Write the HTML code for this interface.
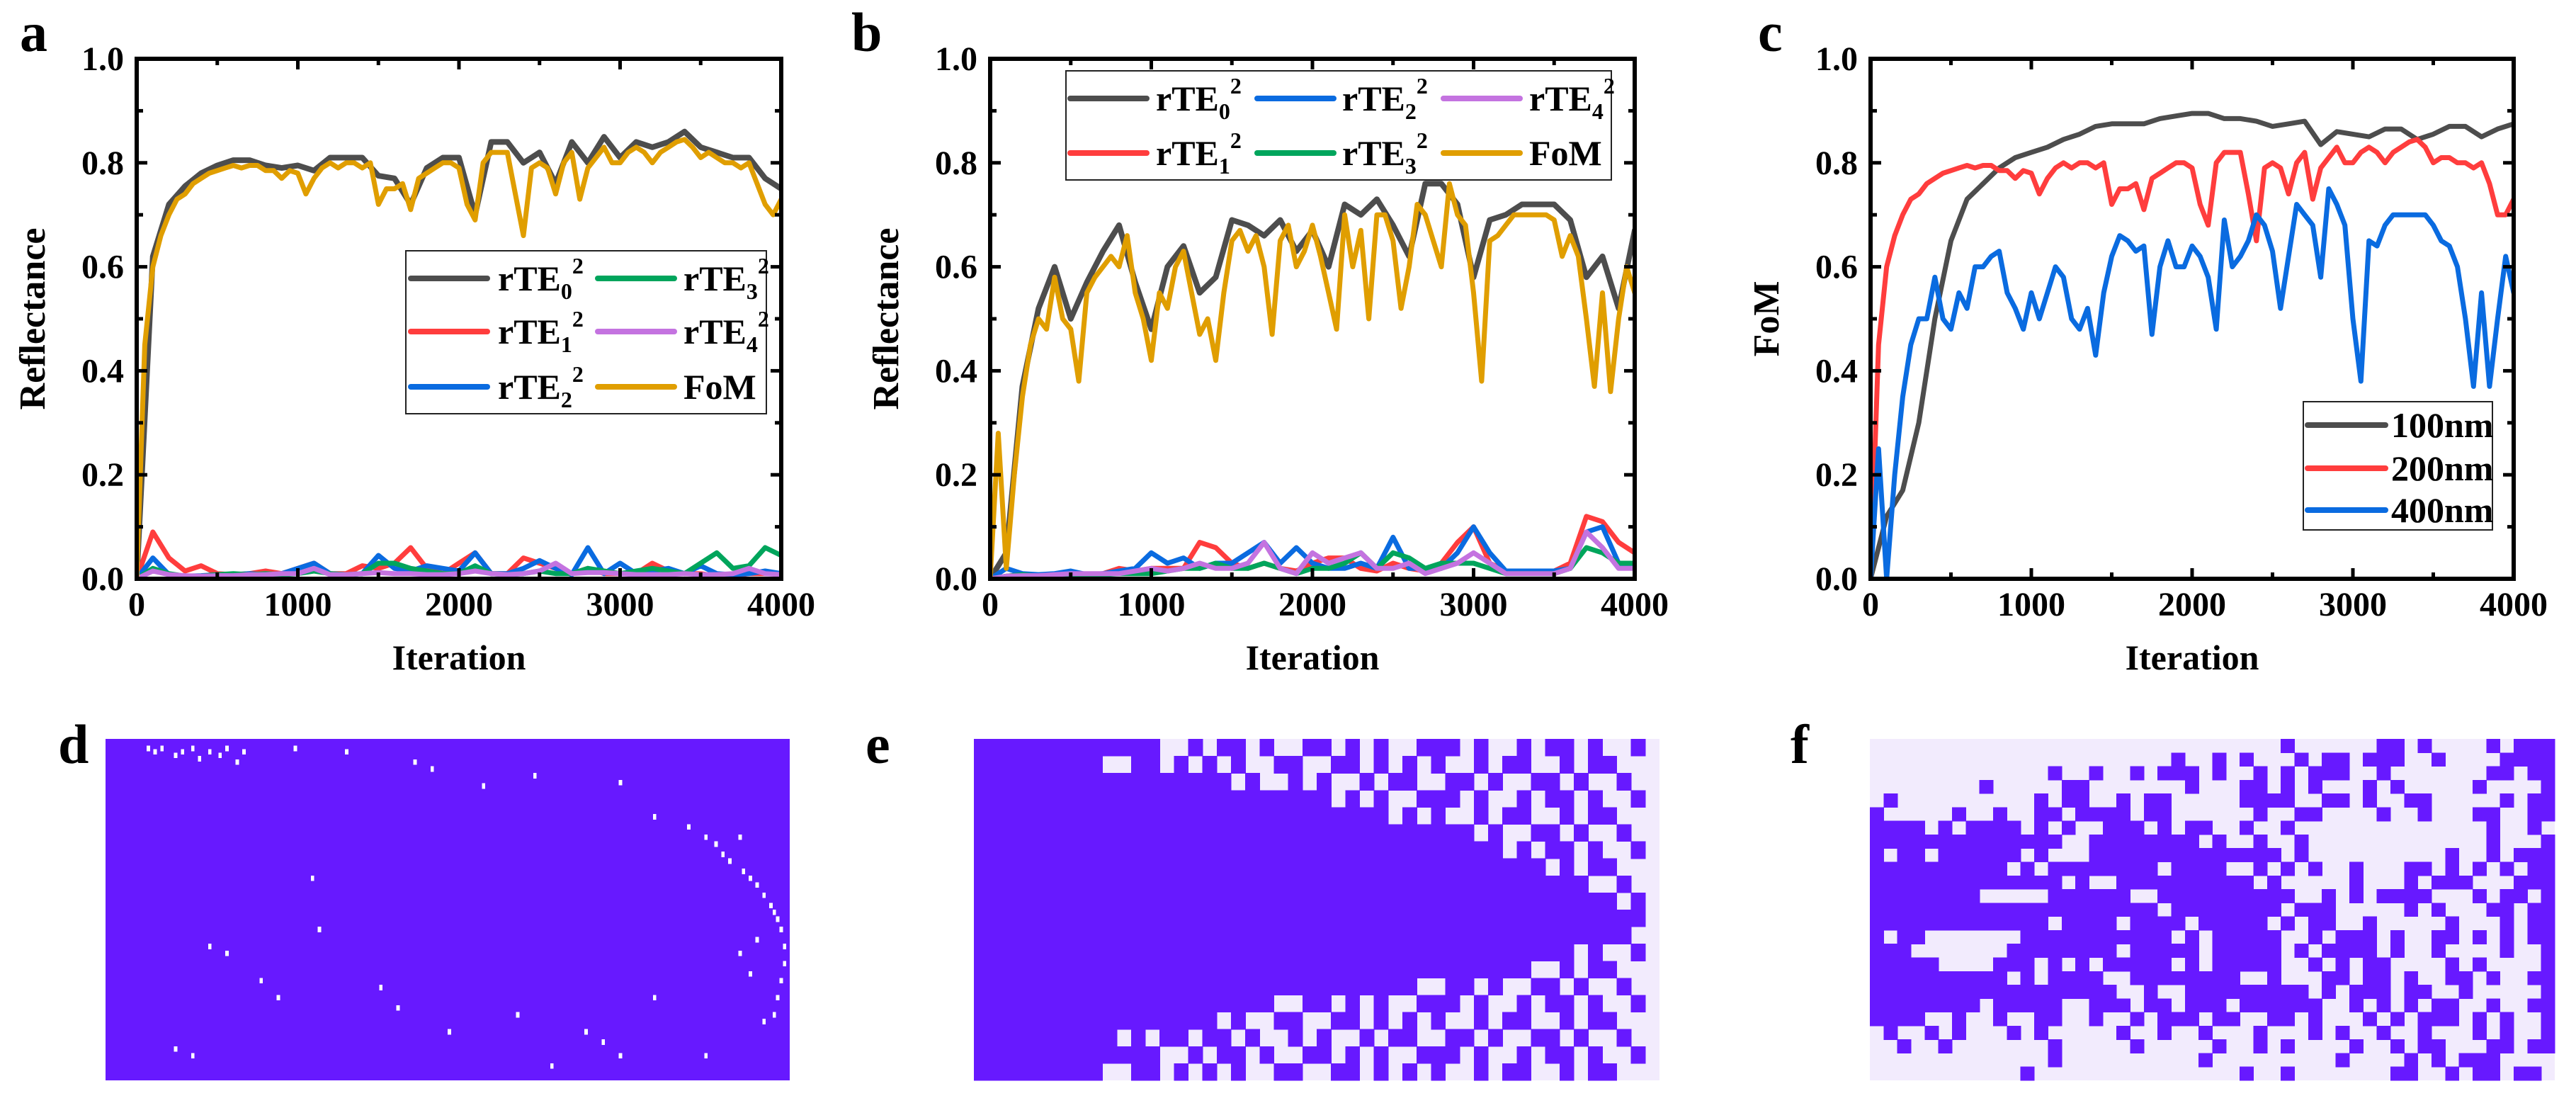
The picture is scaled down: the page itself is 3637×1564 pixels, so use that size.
<!DOCTYPE html>
<html><head><meta charset="utf-8"><style>
html,body{margin:0;padding:0;background:#fff;}
svg{display:block;}
text{font-family:"Liberation Serif",serif;font-weight:bold;fill:#000;}
</style></head><body>
<svg id="fig" width="3637" height="1564" viewBox="0 0 3637 1564" xmlns="http://www.w3.org/2000/svg"></svg>
<script>
// ---------- data ----------
const xTicks=[0,1000,2000,3000,4000];
const xTickLabels=["0","1000","2000","3000","4000"];
const yTicks=[0,0.2,0.4,0.6,0.8,1.0];
const yTickLabels=["0.0","0.2","0.4","0.6","0.8","1.0"];
const step50=50, step100=100;
// panel a
const aFoM=[0,0.45,0.6,0.66,0.7,0.73,0.74,0.76,0.77,0.78,0.785,0.79,0.795,0.79,0.795,0.795,0.785,0.785,0.77,0.785,0.78,0.74,0.77,0.79,0.8,0.79,0.8,0.8,0.79,0.8,0.72,0.75,0.75,0.76,0.71,0.77,0.78,0.79,0.8,0.8,0.79,0.72,0.69,0.8,0.82,0.82,0.82,0.74,0.66,0.79,0.8,0.79,0.74,0.8,0.82,0.73,0.79,0.81,0.83,0.8,0.8,0.82,0.83,0.82,0.8,0.82,0.83,0.84,0.845,0.83,0.81,0.82,0.81,0.8,0.8,0.79,0.8,0.76,0.72,0.7,0.73];
const aR0=[0,0.62,0.72,0.755,0.78,0.795,0.805,0.805,0.795,0.79,0.795,0.785,0.81,0.81,0.81,0.775,0.77,0.72,0.79,0.81,0.81,0.7,0.84,0.84,0.8,0.82,0.76,0.84,0.8,0.85,0.81,0.84,0.83,0.84,0.86,0.83,0.82,0.81,0.81,0.77,0.75];
const aR1=[0,0.09,0.04,0.015,0.025,0.01,0.008,0.01,0.015,0.01,0.02,0.03,0.01,0.01,0.025,0.02,0.03,0.06,0.02,0.01,0.03,0.05,0.01,0.01,0.04,0.03,0.02,0.01,0.02,0.01,0.01,0.01,0.03,0.015,0.01,0.01,0.005,0.005,0.01,0.01,0.01];
const aR2=[0,0.04,0.008,0.005,0.006,0.008,0.008,0.01,0.008,0.01,0.02,0.03,0.01,0.008,0.01,0.045,0.02,0.015,0.025,0.02,0.015,0.05,0.01,0.01,0.02,0.035,0.02,0.008,0.06,0.01,0.03,0.01,0.015,0.02,0.01,0.025,0.01,0.008,0.01,0.015,0.01];
const aR3=[0,0.02,0.01,0.005,0.005,0.008,0.01,0.008,0.01,0.008,0.01,0.015,0.01,0.008,0.01,0.03,0.03,0.02,0.015,0.01,0.01,0.025,0.01,0.008,0.01,0.015,0.01,0.01,0.02,0.015,0.01,0.015,0.02,0.015,0.01,0.03,0.05,0.02,0.025,0.06,0.045];
const aR4=[0,0.015,0.008,0.006,0.005,0.006,0.006,0.008,0.008,0.01,0.01,0.02,0.008,0.008,0.01,0.012,0.01,0.01,0.008,0.008,0.01,0.015,0.01,0.008,0.01,0.015,0.03,0.01,0.012,0.012,0.01,0.008,0.008,0.008,0.01,0.008,0.008,0.01,0.02,0.01,0.008];
// panel b
const bFoM=[0,0.28,0.02,0.2,0.35,0.45,0.5,0.48,0.58,0.5,0.48,0.38,0.55,0.58,0.6,0.62,0.6,0.66,0.55,0.5,0.42,0.55,0.52,0.6,0.63,0.55,0.47,0.5,0.42,0.55,0.65,0.67,0.63,0.66,0.6,0.47,0.65,0.68,0.6,0.63,0.68,0.62,0.55,0.48,0.7,0.6,0.67,0.5,0.7,0.7,0.65,0.52,0.6,0.72,0.7,0.65,0.6,0.76,0.7,0.68,0.55,0.38,0.65,0.66,0.68,0.7,0.7,0.7,0.7,0.7,0.69,0.62,0.66,0.62,0.5,0.37,0.55,0.36,0.5,0.6,0.55];
const bR0=[0,0.05,0.37,0.52,0.6,0.5,0.57,0.63,0.68,0.57,0.48,0.6,0.64,0.55,0.58,0.69,0.68,0.66,0.69,0.63,0.67,0.6,0.72,0.7,0.73,0.68,0.62,0.76,0.76,0.72,0.58,0.69,0.7,0.72,0.72,0.72,0.69,0.58,0.62,0.52,0.67];
const bR1=[0,0.005,0.008,0.005,0.006,0.008,0.006,0.01,0.02,0.015,0.02,0.02,0.02,0.07,0.06,0.03,0.02,0.03,0.02,0.015,0.03,0.04,0.04,0.02,0.015,0.03,0.02,0.015,0.03,0.07,0.1,0.03,0.015,0.012,0.012,0.015,0.03,0.12,0.11,0.07,0.05];
const bR2=[0,0.02,0.01,0.008,0.01,0.015,0.008,0.01,0.015,0.02,0.05,0.03,0.04,0.02,0.03,0.03,0.05,0.07,0.03,0.06,0.03,0.02,0.02,0.03,0.02,0.08,0.02,0.02,0.02,0.05,0.1,0.05,0.015,0.015,0.015,0.015,0.02,0.09,0.1,0.03,0.02];
const bR3=[0,0.005,0.008,0.005,0.005,0.006,0.008,0.008,0.01,0.01,0.01,0.015,0.02,0.02,0.03,0.02,0.02,0.03,0.02,0.01,0.02,0.02,0.03,0.05,0.02,0.05,0.04,0.02,0.03,0.03,0.03,0.02,0.01,0.01,0.01,0.01,0.02,0.06,0.05,0.03,0.03];
const bR4=[0,0.005,0.006,0.006,0.008,0.01,0.01,0.01,0.01,0.015,0.02,0.015,0.02,0.03,0.02,0.02,0.03,0.07,0.02,0.01,0.05,0.03,0.04,0.05,0.02,0.02,0.03,0.01,0.02,0.03,0.05,0.03,0.01,0.01,0.01,0.01,0.02,0.09,0.06,0.02,0.02];
// panel c
const c100=[0,0.12,0.17,0.3,0.5,0.65,0.73,0.76,0.79,0.81,0.82,0.83,0.845,0.855,0.87,0.875,0.875,0.875,0.885,0.89,0.895,0.895,0.885,0.885,0.88,0.87,0.875,0.88,0.835,0.86,0.855,0.85,0.865,0.865,0.845,0.855,0.87,0.87,0.85,0.865,0.875];
const c200=[0,0.45,0.6,0.66,0.7,0.73,0.74,0.76,0.77,0.78,0.785,0.79,0.795,0.79,0.795,0.795,0.785,0.785,0.77,0.785,0.78,0.74,0.77,0.79,0.8,0.79,0.8,0.8,0.79,0.8,0.72,0.75,0.75,0.76,0.71,0.77,0.78,0.79,0.8,0.8,0.79,0.72,0.68,0.8,0.82,0.82,0.82,0.74,0.65,0.79,0.8,0.79,0.74,0.8,0.82,0.73,0.79,0.81,0.83,0.8,0.8,0.82,0.83,0.82,0.8,0.82,0.83,0.84,0.845,0.83,0.8,0.81,0.81,0.8,0.8,0.79,0.8,0.76,0.7,0.7,0.73];
const c400=[0,0.25,0,0.2,0.35,0.45,0.5,0.5,0.58,0.5,0.48,0.55,0.52,0.6,0.6,0.62,0.63,0.55,0.52,0.48,0.55,0.5,0.55,0.6,0.58,0.5,0.48,0.52,0.43,0.55,0.62,0.66,0.65,0.63,0.64,0.47,0.6,0.65,0.6,0.6,0.64,0.62,0.58,0.48,0.69,0.6,0.62,0.65,0.7,0.68,0.63,0.52,0.62,0.72,0.7,0.68,0.58,0.75,0.72,0.68,0.5,0.38,0.65,0.64,0.68,0.7,0.7,0.7,0.7,0.7,0.68,0.65,0.64,0.6,0.5,0.37,0.55,0.37,0.5,0.62,0.55];
// heatmap e: per-row solid-material prefix length (of 48 cols) and speckle pattern index
const eSolid=[12,8,18,23,29,33,37,40,43,45,47,45,42,38,30,20,16,10,12,8];
const eNoiseIdx=[0,1,2,0,1,2,0,1,2,0,1,2,0,1,2,0,1,2,0,1];
const eNoise=[
"x.xx..x.x.xxx..x.xx.x..xx.x.x..xxx.x..x.xx.x..x.",
".xx.x..xx..xx.x.x.x..xx..xx.x.x.x..x.xx..x.xx..x",
"xx..x.x..x.x.xx.xx.x..x.x..x.xx..xx.x..xx.x..x.."];
// heatmap f (25 rows x 50 cols): x = material, . = void
const fRows=[
"..............................x......xx.x....x.xxx",
"......................x..x.x...x.xx.xxx..x....xxxx",
".............x..x..x.xxx.x..x.x.xxx..x.......xx.xx",
"........x.....xx.......x...xx.x.x...x.x.....x....x",
".x..........x.xx..x.xx.....xxxx..xx.x..xx.....x.xx",
"x.....x..x..xx.xxxx.xx......x..xx....x..x...xx..xx",
"xxxx.x.xxxx.x.x..xxx.x.xx..x..x..............x..x.",
"xxxxxxxxxxxxxx..xxxxxxxx.x..x..x.............x...x",
"x.xx.xxxxxx.x...xxxxxxxxxxxxxx.x..........x..x.xxx",
"xxxxxxxxxx.x.xxxxxxxx.xxxx..x.x.x..x...xx.x.x.x.xx",
"xxxxxxxxxxxxxx.x..xxxxxxxxxx.x.....x...x.xxx...xxx",
"xxxxxxxx.....xxxxxx..xxxxxxxxxx..x.x.xxxx...x.xx.x",
"xxxxxxxxxxxxxxxxxxxxx.xxxxxxxx.xxx.....x.x...xx.xx",
"xxxxxxxxxxxxx.xxxx.xxxx.xxxxx.x.xx..x.....x...x.xx",
"x.xx.......xxxxxxxxxxx.x.xxxxx..x.xxx.x..xx.x.x.xx",
"xxx.......xxxxxxxx.xxxxx.xxxxx.x.xxxx.x..x....x..x",
"xxxxx....xxx.x.x.xxxxx.x.xxxxx..x.x.xx....x.x....x",
"xxxxxxxxxx.x.xxxx..xxxxxxxx..x...xx.xx.x..xx.x..xx",
"xxxxxxxxxxxxxxxxxx..x..xxxxxxxxx.x.xxx.xx..x.....x",
"xxxxxxxx.xxxxx..xxx.xx.xxx.xxxxxx..x.x.x.xx..x..xx",
"xxxx..x..x..xx..x..x.xxx.xx..xx.x...x.x.xxx.x.x..x",
".x..x.x...x.x.....x..x..x...x...x.x..x..x...x.x..x",
"..x..x.......x.....x.....x..x.x....x..x.xx...xx.xx",
".............x..........x.........x....x.x.xxx....",
"...........x...............x..x.......xx..x.xx.xx."];
// heatmap d voids on 200x100 grid
const dVoidCols=[12,14,16,20,22,25,27,30,33,35,38,40,55,70,90,95,110,125,150,160,170,175,178,180,182,185,186,188,190,192,194,195,196,197,198,198,197,196,195,190,185,60,62,30,35,45,50,80,85,100,120,140,145,160,175,188,192,20,25,130,150];
const dVoidRows=[2,3,2,4,3,2,5,3,4,2,6,3,2,3,6,8,13,10,12,22,25,28,30,33,35,28,38,40,42,45,48,50,52,55,60,65,70,75,80,58,62,40,55,60,62,70,75,72,78,85,80,85,88,75,92,68,82,90,92,95,92];

// ---------- helpers ----------
const NS="http://www.w3.org/2000/svg";
const svg=document.getElementById('fig');
function mk(tag,attrs,parent){const e=document.createElementNS(NS,tag);for(const k in attrs)e.setAttribute(k,attrs[k]);(parent||svg).appendChild(e);return e;}
function txt(s,x,y,size,anchor,parent){const t=mk('text',{x:x,y:y,'font-size':size,'text-anchor':anchor||'start'},parent);t.textContent=s;return t;}

const C={gray:'#4d4d4d',red:'#ff3d3d',blue:'#0a6be0',green:'#00a55c',violet:'#c473e0',gold:'#e09e00'};

function makeAxes(P,ylabel,name){
  const g=mk('g',{});
  
  
  P.sx=v=>P.x0+(v/4000)*(P.x1-P.x0);
  P.sy=v=>P.y1-(v/1.0)*(P.y1-P.y0);
  P.g=g;
  return g;
}
function drawFrame(P,ylabel,name){
  const g=P.g;
  for(let v=0;v<=4000;v+=500){
    const x=P.sx(v), L=(v%1000===0)?15:9;
    mk('line',{x1:x,y1:P.y1,x2:x,y2:P.y1-L,stroke:'#000','stroke-width':5},g);
    mk('line',{x1:x,y1:P.y0,x2:x,y2:P.y0+L,stroke:'#000','stroke-width':5},g);
  }
  for(let i=0;i<=10;i++){
    const y=P.y1-i/10*(P.y1-P.y0), L=(i%2===0)?15:9;
    mk('line',{x1:P.x0,y1:y,x2:P.x0+L,y2:y,stroke:'#000','stroke-width':5},g);
    mk('line',{x1:P.x1,y1:y,x2:P.x1-L,y2:y,stroke:'#000','stroke-width':5},g);
  }
  mk('rect',{x:P.x0,y:P.y0,width:P.x1-P.x0,height:P.y1-P.y0,fill:'none',stroke:'#000','stroke-width':6},g);
  xTicks.forEach((v,i)=>{const t=txt(xTickLabels[i],P.sx(v),P.y1+52,48,'middle',g);
    
    });
  yTicks.forEach((v,i)=>{const t=txt(yTickLabels[i],P.x0-18,P.sy(v)+16,48,'end',g);
    
    });
  const xt=txt('Iteration',(P.x0+P.x1)/2,P.y1+128,50,'middle',g);
  
  
  const cx=P.x0-130, cy=(P.y0+P.y1)/2;
  const yt=txt(ylabel,cx,cy,52,'middle',g);
  yt.setAttribute('transform','rotate(-90 '+cx+' '+cy+')');
  
  
}
function series(P,vals,step,color,name,w){
  let d='';
  vals.forEach((v,i)=>{d+=(i?'L':'M')+P.sx(i*step).toFixed(1)+','+P.sy(v).toFixed(1);});
  const p=mk('path',{d:d,fill:'none',stroke:color,'stroke-width':w||7,'stroke-linejoin':'round','stroke-linecap':'round','clip-path':'url(#'+P.clip+')'},P.g);
  
  
}
function clip(P,id){
  const defs=mk('defs',{});const cp=mk('clipPath',{id:id},defs);
  mk('rect',{x:P.x0,y:P.y0-4,width:P.x1-P.x0,height:P.y1-P.y0+4},cp);P.clip=id;
}
function rteLabel(parent,x,y,sub){
  const t=mk('text',{x:x,y:y,'font-size':50},parent);
  t.appendChild(document.createTextNode('rTE'));
  const s1=mk('tspan',{dy:12,'font-size':32},t);s1.textContent=sub;
  const s2=mk('tspan',{dy:-36,'font-size':32},t);s2.textContent='2';
  return t;
}
function legend(box,entries,name){
  const g=mk('g',{});
  
  
  mk('rect',{x:box.x,y:box.y,width:box.w,height:box.h,fill:'#fff',stroke:'#222','stroke-width':2},g);
  entries.forEach(e=>{
    const it=mk('g',{},g);
    
    
    mk('line',{x1:e.lx,y1:e.y,x2:e.lx+e.lw,y2:e.y,stroke:e.c,'stroke-width':8,'stroke-linecap':'round'},it);
    if(e.sub!==undefined) rteLabel(it,e.tx,e.y+17,e.sub);
    else txt(e.label,e.tx,e.y+17,50,'start',it);
  });
}

// ---------- panel labels ----------
[['a',28,72],['b',1202,72],['c',2482,72],['d',82,1077],['e',1222,1077],['f',2528,1077]].forEach(l=>{
  const t=txt(l[0],l[1],l[2],78,'start');
  
  
});

// ---------- panel a ----------
const PA={x0:193,x1:1103,y0:83,y1:817};
makeAxes(PA,'Reflectance','panel-a');clip(PA,'ca');
series(PA,aR0,step100,C.gray,'series-a-rte0',8);
series(PA,aR1,step100,C.red,'series-a-rte1');
series(PA,aR2,step100,C.blue,'series-a-rte2');
series(PA,aR3,step100,C.green,'series-a-rte3');
series(PA,aR4,step100,C.violet,'series-a-rte4');
series(PA,aFoM,step50,C.gold,'series-a-fom');
drawFrame(PA,'Reflectance','panel-a');
legend({x:573,y:354,w:509,h:230},[
 {lx:580,lw:108,tx:703,y:393,c:C.gray,sub:'0'},
 {lx:580,lw:108,tx:703,y:468,c:C.red,sub:'1'},
 {lx:580,lw:108,tx:703,y:546,c:C.blue,sub:'2'},
 {lx:844,lw:108,tx:965,y:393,c:C.green,sub:'3'},
 {lx:844,lw:108,tx:965,y:468,c:C.violet,sub:'4'},
 {lx:844,lw:108,tx:965,y:546,c:C.gold,label:'FoM'}],'legend-a');

// ---------- panel b ----------
const PB={x0:1398,x1:2308,y0:83,y1:817};
makeAxes(PB,'Reflectance','panel-b');clip(PB,'cb');
series(PB,bR0,step100,C.gray,'series-b-rte0',8);
series(PB,bR1,step100,C.red,'series-b-rte1');
series(PB,bR2,step100,C.blue,'series-b-rte2');
series(PB,bR3,step100,C.green,'series-b-rte3');
series(PB,bR4,step100,C.violet,'series-b-rte4');
series(PB,bFoM,step50,C.gold,'series-b-fom');
drawFrame(PB,'Reflectance','panel-b');
legend({x:1505,y:100,w:770,h:154},[
 {lx:1511,lw:108,tx:1632,y:139,c:C.gray,sub:'0'},
 {lx:1511,lw:108,tx:1632,y:216,c:C.red,sub:'1'},
 {lx:1775,lw:108,tx:1895,y:139,c:C.blue,sub:'2'},
 {lx:1775,lw:108,tx:1895,y:216,c:C.green,sub:'3'},
 {lx:2038,lw:108,tx:2159,y:139,c:C.violet,sub:'4'},
 {lx:2038,lw:108,tx:2159,y:216,c:C.gold,label:'FoM'}],'legend-b');

// ---------- panel c ----------
const PC={x0:2641,x1:3549,y0:83,y1:817};
makeAxes(PC,'FoM','panel-c');clip(PC,'cc');
series(PC,c100,step100,C.gray,'series-c-100nm');
series(PC,c200,step50,C.red,'series-c-200nm');
series(PC,c400,step50,C.blue,'series-c-400nm');
drawFrame(PC,'FoM','panel-c');
legend({x:3252,y:567,w:267,h:181},[
 {lx:3258,lw:110,tx:3376,y:600,c:C.gray,label:'100nm'},
 {lx:3258,lw:110,tx:3376,y:661,c:C.red,label:'200nm'},
 {lx:3258,lw:110,tx:3376,y:720,c:C.blue,label:'400nm'}],'legend-c');

// ---------- heatmaps ----------
const PUR='#6719ff', LAV='#f2ebfd';
function heat(rows,X,Y,W,H,name){
  const g=mk('g',{'shape-rendering':'crispEdges'});
  
  
  mk('rect',{x:X,y:Y,width:W,height:H,fill:LAV},g);
  const nr=rows.length,nc=rows[0].length,cw=W/nc,ch=H/nr;
  rows.forEach((r,i)=>{for(let j=0;j<nc;j++){if(r[j]==='x'){
    mk('rect',{x:(X+j*cw).toFixed(2),y:(Y+i*ch).toFixed(2),width:(cw+0.6).toFixed(2),height:(ch+0.6).toFixed(2),fill:PUR},g);}}});
}
// d
(function(){
  const X=149,Y=1043,W=966,H=482;
  const g=mk('g',{'shape-rendering':'crispEdges'});
  
  
  mk('rect',{x:X,y:Y,width:W,height:H,fill:PUR},g);
  const cw=W/200,ch=H/100;
  dVoidCols.forEach((c,i)=>{
    mk('rect',{x:X+c*cw,y:Y+dVoidRows[i]*ch,width:cw,height:ch*1.6,fill:'#fff'},g);
  });
})();
// e rows assembled from solid prefix + speckle pattern, last column void
const eRows=eSolid.map((s,i)=>{
  const n=eNoise[eNoiseIdx[i]];
  let r='';
  for(let j=0;j<48;j++) r+= (j===47)?'.':(j<s?'x':n[j]);
  return r;
});
heat(eRows,1375,1043,968,482,'heatmap-e');
heat(fRows,2640,1043,967,482,'heatmap-f');
</script>
</body></html>
